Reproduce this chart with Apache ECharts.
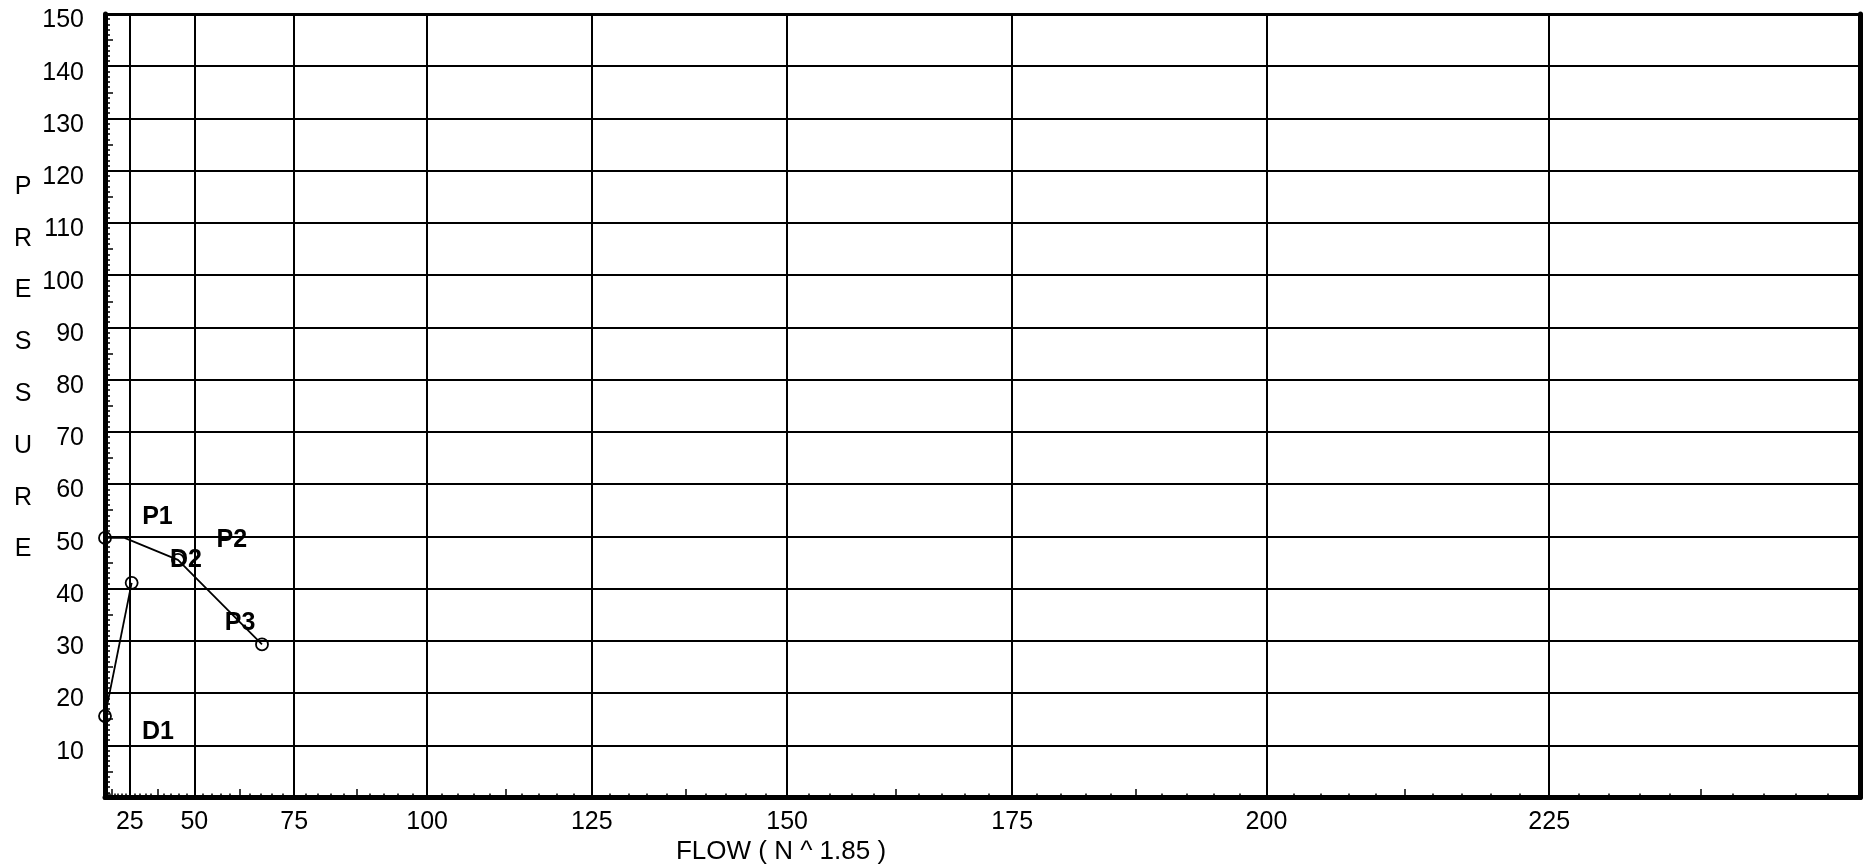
<!DOCTYPE html>
<html><head><meta charset="utf-8">
<script src="https://cdn.jsdelivr.net/npm/echarts@6/dist/echarts.min.js"></script>
<style>html,body{margin:0;padding:0;background:#fff}#c{width:1870px;height:867px}</style>
</head><body><div id="c"></div>
<script>
// ---- data ----
const EXPONENT = 1.85;
const xMaxValue = 250;
const yMinValue = 0, yMaxValue = 150, yStep = 10;
const xLabelValues = [25, 50, 75, 100, 125, 150, 175, 200, 225];
const yLabelValues = [10, 20, 30, 40, 50, 60, 70, 80, 90, 100, 110, 120, 130, 140, 150];
const curveDX = [0, 26.0];
const curveDY = [15.6, 41.1];
const curvePX = [0, 22, 44.8, 67.8];
const curvePY = [49.7, 49.7, 45.5, 29.3];
const curvePMarker = [true, false, true, true];
const noteNames = ['P1', 'P2', 'D2', 'P3', 'D1'];
const noteX = [37.5, 60.4, 47.4, 62.5, 37.7];
const noteY = [53.7, 49.3, 45.5, 33.4, 12.5];
const xTitle = 'FLOW ( N ^ 1.85 )';
const yTitle = 'PRESSURE';

// ---- scale helpers (N^1.85 graph paper) ----
const pw = v => Math.pow(v, EXPONENT);
const inv = v => Math.pow(v, 1 / EXPONENT);

const minorX = [], midX = [];
for (let i = 1; i * 2.5 < xMaxValue; i++) {
  const v = i * 2.5;
  if (i % 10 === 0) continue;
  if (i % 5 === 0) midX.push(pw(v)); else minorX.push(pw(v));
}
const minorY = [], midY = [];
for (let v = 1; v < yMaxValue; v++) {
  if (v % 10 === 0) continue;
  if (v % 5 === 0) midY.push(v); else minorY.push(v);
}

const FONT = "'Liberation Sans', Arial, sans-serif";
const black = '#000';

const xBase = {
  type: 'value', min: 0, max: pw(xMaxValue), position: 'bottom',
  axisLine: { show: false, onZero: false }, axisLabel: { show: false },
  axisTick: { show: false }, splitLine: { show: false }
};
const yBase = {
  type: 'value', min: yMinValue, max: yMaxValue, interval: yStep, position: 'left',
  axisLine: { show: false, onZero: false }, axisLabel: { show: false },
  axisTick: { show: false }, splitLine: { show: false }
};

const chart = echarts.init(document.getElementById('c'), null, { renderer: 'canvas' });
chart.setOption({
  animation: false,
  backgroundColor: '#fff',
  grid: { left: 105, right: 10, top: 14, bottom: 69.5, containLabel: false },
  xAxis: [
    Object.assign({}, xBase, {
      axisLine: { show: true, onZero: false, lineStyle: { color: black, width: 5 } },
      axisLabel: { show: true, customValues: xLabelValues.map(pw),
        formatter: v => String(Math.round(inv(v))),
        fontSize: 25, fontFamily: FONT, color: black, margin: 12 },
      axisTick: { show: false, customValues: xLabelValues.map(pw) },
      splitLine: { show: true, lineStyle: { color: black, width: 2 } }
    }),
    Object.assign({}, xBase, {
      axisTick: { show: true, inside: true, length: 4, customValues: minorX,
        lineStyle: { color: black, width: 1.5 } }
    }),
    Object.assign({}, xBase, {
      axisTick: { show: true, inside: true, length: 8.5, customValues: midX,
        lineStyle: { color: black, width: 1.5 } }
    }),
    Object.assign({}, xBase, {
      position: 'top',
      axisLine: { show: true, onZero: false, lineStyle: { color: black, width: 3 } }
    })
  ],
  yAxis: [
    Object.assign({}, yBase, {
      axisLine: { show: true, onZero: false, lineStyle: { color: black, width: 5 } },
      axisLabel: { show: true, customValues: yLabelValues, fontSize: 25, fontFamily: FONT,
        color: black, margin: 21, verticalAlign: 'top', lineHeight: 13 },
      splitLine: { show: true, lineStyle: { color: black, width: 2 } }
    }),
    Object.assign({}, yBase, {
      axisTick: { show: true, inside: true, length: 5, customValues: minorY,
        lineStyle: { color: black, width: 1.5 } }
    }),
    Object.assign({}, yBase, {
      axisTick: { show: true, inside: true, length: 8, customValues: midY,
        lineStyle: { color: black, width: 1.5 } }
    }),
    Object.assign({}, yBase, {
      position: 'right',
      axisLine: { show: true, onZero: false, lineStyle: { color: black, width: 5 } }
    })
  ],
  series: [
    {
      type: 'line', xAxisIndex: 0, yAxisIndex: 0,
      data: curveDX.map((x, i) => [pw(x), curveDY[i]]),
      symbol: 'circle', symbolSize: 12, showAllSymbol: true,
      itemStyle: { color: 'rgba(0,0,0,0)', borderColor: black, borderWidth: 1.8, opacity: 1 },
      lineStyle: { color: black, width: 1.8 }, z: 5
    },
    {
      type: 'line', xAxisIndex: 0, yAxisIndex: 0,
      data: curvePX.map((x, i) => curvePMarker[i]
        ? { value: [pw(x), curvePY[i]] }
        : { value: [pw(x), curvePY[i]], symbol: 'none' }),
      symbol: 'circle', symbolSize: 12, showAllSymbol: true,
      itemStyle: { color: 'rgba(0,0,0,0)', borderColor: black, borderWidth: 1.8, opacity: 1 },
      lineStyle: { color: black, width: 1.8 }, z: 5
    },
    {
      type: 'scatter', xAxisIndex: 0, yAxisIndex: 0,
      data: noteNames.map((n, i) => ({ name: n, value: [pw(noteX[i]), noteY[i]] })),
      symbolSize: 1, itemStyle: { color: 'rgba(0,0,0,0)', opacity: 1 },
      label: { show: true, position: 'inside', formatter: p => p.name,
        fontSize: 25, fontWeight: 'bold', fontFamily: FONT, color: black,
        opacity: 1, textBorderWidth: 0 },
      z: 6
    }
  ],
  graphic: [
    { type: 'text', x: 781, y: 852, style: { text: xTitle, font: '26px ' + FONT,
        fill: black, textAlign: 'center', textVerticalAlign: 'middle' } },
    { type: 'text', x: 23, y: 161, style: { text: yTitle.split('').join('\n'),
        font: '25px ' + FONT, lineHeight: 51.8, fill: black,
        textAlign: 'center', textVerticalAlign: 'top' } }
  ]
});
</script>
</body></html>
